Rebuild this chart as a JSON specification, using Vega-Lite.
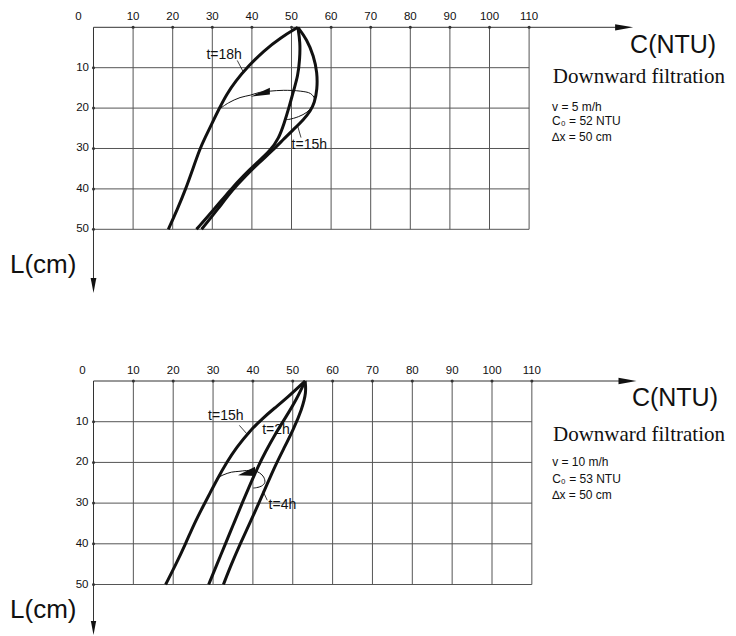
{
  "$schema": "https://vega.github.io/schema/vega-lite/v6.json",
  "padding": 0,
  "spacing": 0,
  "bounds": "flush",
  "background": "white",
  "config": {"view": {"stroke": null}, "font": "Liberation Sans"},
  "datasets": {
    "gridX": [{"x":10},{"x":20},{"x":30},{"x":40},{"x":50},{"x":60},{"x":70},{"x":80},{"x":90},{"x":100},{"x":110}],
    "gridL": [{"L":10},{"L":20},{"L":30},{"L":40},{"L":50}],
    "topCurves": [
      {"series":"t=18h","i":0,"x":51.6,"L":0},{"series":"t=18h","i":1,"x":47.2,"L":2.6},{"series":"t=18h","i":2,"x":43.0,"L":5.8},{"series":"t=18h","i":3,"x":38.9,"L":9.8},{"series":"t=18h","i":4,"x":35.9,"L":13.3},{"series":"t=18h","i":5,"x":33.6,"L":16.6},{"series":"t=18h","i":6,"x":31.8,"L":20},{"series":"t=18h","i":7,"x":29.8,"L":24},{"series":"t=18h","i":8,"x":28.2,"L":27.3},{"series":"t=18h","i":9,"x":26.9,"L":30},{"series":"t=18h","i":10,"x":25.1,"L":35},{"series":"t=18h","i":11,"x":23.3,"L":40},{"series":"t=18h","i":12,"x":21.2,"L":45},{"series":"t=18h","i":13,"x":18.9,"L":50},
      {"series":"middle","i":0,"x":51.6,"L":0},{"series":"middle","i":1,"x":52.2,"L":3.7},{"series":"middle","i":2,"x":52.1,"L":7.9},{"series":"middle","i":3,"x":51.6,"L":12.1},{"series":"middle","i":4,"x":50.6,"L":15.4},{"series":"middle","i":5,"x":49.3,"L":20.1},{"series":"middle","i":6,"x":48.2,"L":23.6},{"series":"middle","i":7,"x":46.8,"L":27.5},{"series":"middle","i":8,"x":44.6,"L":30.6},{"series":"middle","i":9,"x":41.2,"L":33.6},{"series":"middle","i":10,"x":37.8,"L":36.8},{"series":"middle","i":11,"x":34.6,"L":40.2},{"series":"middle","i":12,"x":30.5,"L":45.0},{"series":"middle","i":13,"x":26.0,"L":50},
      {"series":"t=15h","i":0,"x":51.6,"L":0},{"series":"t=15h","i":1,"x":53.9,"L":3.0},{"series":"t=15h","i":2,"x":55.6,"L":7.1},{"series":"t=15h","i":3,"x":56.5,"L":11.2},{"series":"t=15h","i":4,"x":56.5,"L":15.4},{"series":"t=15h","i":5,"x":55.8,"L":18.7},{"series":"t=15h","i":6,"x":54.8,"L":20.7},{"series":"t=15h","i":7,"x":53.1,"L":22.8},{"series":"t=15h","i":8,"x":50.5,"L":25.3},{"series":"t=15h","i":9,"x":48.0,"L":27.7},{"series":"t=15h","i":10,"x":45.1,"L":30.6},{"series":"t=15h","i":11,"x":41.8,"L":33.5},{"series":"t=15h","i":12,"x":38.4,"L":36.8},{"series":"t=15h","i":13,"x":35.2,"L":40.1},{"series":"t=15h","i":14,"x":31.4,"L":45},{"series":"t=15h","i":15,"x":27.3,"L":50}
    ],
    "topArrow": [
      {"i":0,"x":32.0,"L":20.1},{"i":1,"x":34.1,"L":18.7},{"i":2,"x":37.0,"L":17.4},{"i":3,"x":39.6,"L":16.8},{"i":4,"x":42.0,"L":16.1},{"i":5,"x":44.6,"L":15.8},{"i":6,"x":48.0,"L":15.6},{"i":7,"x":52.2,"L":15.8},{"i":8,"x":54.8,"L":16.4},{"i":9,"x":55.8,"L":17.7},{"i":10,"x":55.2,"L":19.5},{"i":11,"x":53.9,"L":21.0},{"i":12,"x":51.8,"L":22.1},{"i":13,"x":49.3,"L":22.8},{"i":14,"x":48.4,"L":22.8}
    ],
    "topLeaders": [
      {"x":36.3,"L":8.2,"x2":37.8,"L2":11.0},
      {"x":52.4,"L":27.3,"x2":51.6,"L2":24.6}
    ],
    "topLabels": [
      {"label":"t=18h","x":33.0,"L":6.9},
      {"label":"t=15h","x":54.5,"L":29.2}
    ],
    "topParams": [
      {"label":"v = 5 m/h","x":115.8,"L":20.6},
      {"label":"C₀ = 52 NTU","x":115.8,"L":24.3},
      {"label":"∆x = 50 cm","x":115.8,"L":28.1}
    ],
    "bottomCurves": [
      {"series":"t=15h","i":0,"x":53.1,"L":0},{"series":"t=15h","i":1,"x":48.5,"L":4.2},{"series":"t=15h","i":2,"x":45.5,"L":6.6},{"series":"t=15h","i":3,"x":42.4,"L":9.2},{"series":"t=15h","i":4,"x":39.2,"L":12.3},{"series":"t=15h","i":5,"x":35.9,"L":16.3},{"series":"t=15h","i":6,"x":33.4,"L":20},{"series":"t=15h","i":7,"x":31.0,"L":24.2},{"series":"t=15h","i":8,"x":29.2,"L":27.6},{"series":"t=15h","i":9,"x":27.6,"L":30.6},{"series":"t=15h","i":10,"x":25.3,"L":35},{"series":"t=15h","i":11,"x":23.1,"L":40},{"series":"t=15h","i":12,"x":20.7,"L":45},{"series":"t=15h","i":13,"x":18.1,"L":50},
      {"series":"t=2h","i":0,"x":53.1,"L":0},{"series":"t=2h","i":1,"x":51.0,"L":4.4},{"series":"t=2h","i":2,"x":48.5,"L":8.5},{"series":"t=2h","i":3,"x":45.6,"L":13.0},{"series":"t=2h","i":4,"x":43.1,"L":17.5},{"series":"t=2h","i":5,"x":41.3,"L":21},{"series":"t=2h","i":6,"x":39.5,"L":25},{"series":"t=2h","i":7,"x":37.3,"L":30},{"series":"t=2h","i":8,"x":35.2,"L":35},{"series":"t=2h","i":9,"x":33.1,"L":40},{"series":"t=2h","i":10,"x":31.0,"L":45},{"series":"t=2h","i":11,"x":28.9,"L":50},
      {"series":"t=4h","i":0,"x":53.1,"L":0},{"series":"t=4h","i":1,"x":53.4,"L":2.8},{"series":"t=4h","i":2,"x":52.3,"L":6.9},{"series":"t=4h","i":3,"x":50.2,"L":11.8},{"series":"t=4h","i":4,"x":47.7,"L":16.7},{"series":"t=4h","i":5,"x":45.6,"L":20.8},{"series":"t=4h","i":6,"x":43.5,"L":25.5},{"series":"t=4h","i":7,"x":41.5,"L":30},{"series":"t=4h","i":8,"x":39.2,"L":35},{"series":"t=4h","i":9,"x":36.8,"L":40},{"series":"t=4h","i":10,"x":34.6,"L":45},{"series":"t=4h","i":11,"x":32.6,"L":50}
    ],
    "bottomArrow": [
      {"i":0,"x":30.8,"L":24.0},{"i":1,"x":32.5,"L":23.1},{"i":2,"x":34.6,"L":22.4},{"i":3,"x":36.5,"L":22.2},{"i":4,"x":38.4,"L":22.0},{"i":5,"x":40.3,"L":22.0},{"i":6,"x":41.7,"L":22.6},{"i":7,"x":42.7,"L":23.6},{"i":8,"x":43.0,"L":24.9},{"i":9,"x":42.2,"L":25.8},{"i":10,"x":40.9,"L":26.2},{"i":11,"x":40.1,"L":26.3}
    ],
    "bottomLeaders": [
      {"x":36.6,"L":10.9,"x2":38.5,"L2":13.0},
      {"x":43.6,"L":29.3,"x2":42.5,"L2":27.0}
    ],
    "bottomLabels": [
      {"label":"t=15h","x":33.2,"L":8.6},
      {"label":"t=2h","x":45.8,"L":12.1},
      {"label":"t=4h","x":47.4,"L":30.5}
    ],
    "bottomParams": [
      {"label":"v = 10 m/h","x":115.1,"L":20.9},
      {"label":"C₀ = 53 NTU","x":115.1,"L":25.0},
      {"label":"∆x = 50 cm","x":115.1,"L":29.0}
    ]
  },
  "vconcat": [
    {
      "width": 736,
      "height": 318,
      "layer": [
        {"data":{"name":"gridX"},"mark":{"type":"rule","stroke":"#555","strokeWidth":1},
         "encoding":{"x":{"field":"x","type":"quantitative","scale":{"domain":[-23.611,162.247],"nice":false,"zero":false},"axis":null},
                     "y":{"datum":0,"type":"quantitative","scale":{"domain":[-6.757,71.955],"nice":false,"zero":false,"reverse":true},"axis":null},"y2":{"datum":50}}},
        {"data":{"name":"gridL"},"mark":{"type":"rule","stroke":"#555","strokeWidth":1},
         "encoding":{"y":{"field":"L","type":"quantitative","scale":{"domain":[-6.757,71.955],"nice":false,"zero":false,"reverse":true},"axis":null},
                     "x":{"datum":0,"type":"quantitative","scale":{"domain":[-23.611,162.247],"nice":false,"zero":false},"axis":null},"x2":{"datum":110}}},
        {"data":{"values":[{}]},"mark":{"type":"rule","stroke":"#333","strokeWidth":1},
         "encoding":{"x":{"datum":0,"type":"quantitative","scale":{"domain":[-23.611,162.247],"nice":false,"zero":false},"axis":null},"x2":{"datum":134},
                     "y":{"datum":0,"type":"quantitative","scale":{"domain":[-6.757,71.955],"nice":false,"zero":false,"reverse":true},"axis":null}}},
        {"data":{"values":[{}]},"mark":{"type":"rule","stroke":"#333","strokeWidth":1},
         "encoding":{"x":{"datum":0,"type":"quantitative","scale":{"domain":[-23.611,162.247],"nice":false,"zero":false},"axis":null},
                     "y":{"datum":0,"type":"quantitative","scale":{"domain":[-6.757,71.955],"nice":false,"zero":false,"reverse":true},"axis":null},"y2":{"datum":62.5}}},
        {"data":{"values":[{}]},"mark":{"type":"point","shape":"M1,0L-1,-0.35L-1,0.35Z","size":324,"filled":true,"color":"#111","opacity":1},
         "encoding":{"x":{"datum":134,"type":"quantitative","scale":{"domain":[-23.611,162.247],"nice":false,"zero":false},"axis":null},
                     "y":{"datum":0,"type":"quantitative","scale":{"domain":[-6.757,71.955],"nice":false,"zero":false,"reverse":true},"axis":null}}},
        {"data":{"values":[{}]},"mark":{"type":"point","shape":"M0,1L-0.38,-1L0.38,-1Z","size":225,"filled":true,"color":"#111","opacity":1},
         "encoding":{"x":{"datum":0,"type":"quantitative","scale":{"domain":[-23.611,162.247],"nice":false,"zero":false},"axis":null},
                     "y":{"datum":63.9,"type":"quantitative","scale":{"domain":[-6.757,71.955],"nice":false,"zero":false,"reverse":true},"axis":null}}},
        {"data":{"name":"gridX"},"mark":{"type":"point","size":9,"filled":true,"color":"#333","opacity":1},
         "encoding":{"x":{"field":"x","type":"quantitative","scale":{"domain":[-23.611,162.247],"nice":false,"zero":false},"axis":null},
                     "y":{"datum":0,"type":"quantitative","scale":{"domain":[-6.757,71.955],"nice":false,"zero":false,"reverse":true},"axis":null}}},
        {"data":{"name":"gridL"},"mark":{"type":"point","size":9,"filled":true,"color":"#333","opacity":1},
         "encoding":{"y":{"field":"L","type":"quantitative","scale":{"domain":[-6.757,71.955],"nice":false,"zero":false,"reverse":true},"axis":null},
                     "x":{"datum":0,"type":"quantitative","scale":{"domain":[-23.611,162.247],"nice":false,"zero":false},"axis":null}}},
        {"data":{"name":"gridX"},"mark":{"type":"text","fontSize":11.5,"font":"Liberation Sans","color":"#111","baseline":"middle","align":"center","dy":-10},
         "encoding":{"x":{"field":"x","type":"quantitative","scale":{"domain":[-23.611,162.247],"nice":false,"zero":false},"axis":null},
                     "y":{"datum":0,"type":"quantitative","scale":{"domain":[-6.757,71.955],"nice":false,"zero":false,"reverse":true},"axis":null},
                     "text":{"field":"x","type":"quantitative"}}},
        {"data":{"name":"gridL"},"mark":{"type":"text","fontSize":11.5,"font":"Liberation Sans","color":"#111","baseline":"middle","align":"right","dx":-4.5},
         "encoding":{"y":{"field":"L","type":"quantitative","scale":{"domain":[-6.757,71.955],"nice":false,"zero":false,"reverse":true},"axis":null},
                     "x":{"datum":0,"type":"quantitative","scale":{"domain":[-23.611,162.247],"nice":false,"zero":false},"axis":null},
                     "text":{"field":"L","type":"quantitative"}}},
        {"data":{"values":[{}]},"mark":{"type":"text","text":"0","fontSize":11.5,"font":"Liberation Sans","color":"#111","baseline":"middle","align":"center","dx":-15,"dy":-10},
         "encoding":{"x":{"datum":0,"type":"quantitative","scale":{"domain":[-23.611,162.247],"nice":false,"zero":false},"axis":null},
                     "y":{"datum":0,"type":"quantitative","scale":{"domain":[-6.757,71.955],"nice":false,"zero":false,"reverse":true},"axis":null}}},
        {"data":{"name":"topArrow"},"mark":{"type":"line","stroke":"#111","strokeWidth":1,"interpolate":"catmull-rom"},
         "encoding":{"x":{"field":"x","type":"quantitative","scale":{"domain":[-23.611,162.247],"nice":false,"zero":false},"axis":null},
                     "y":{"field":"L","type":"quantitative","scale":{"domain":[-6.757,71.955],"nice":false,"zero":false,"reverse":true},"axis":null},
                     "order":{"field":"i","type":"quantitative"}}},
        {"data":{"name":"topCurves"},"mark":{"type":"line","stroke":"#111","strokeWidth":3,"interpolate":"basis","strokeJoin":"round"},
         "encoding":{"x":{"field":"x","type":"quantitative","scale":{"domain":[-23.611,162.247],"nice":false,"zero":false},"axis":null},
                     "y":{"field":"L","type":"quantitative","scale":{"domain":[-6.757,71.955],"nice":false,"zero":false,"reverse":true},"axis":null},
                     "detail":{"field":"series","type":"nominal"},
                     "order":{"field":"i","type":"quantitative"}}},
        {"data":{"values":[{}]},"mark":{"type":"point","shape":"M-1,0.41L1,-0.52L1,0.17Z","size":372,"filled":true,"color":"#111","opacity":1},
         "encoding":{"x":{"datum":42.1,"type":"quantitative","scale":{"domain":[-23.611,162.247],"nice":false,"zero":false},"axis":null},
                     "y":{"datum":16.2,"type":"quantitative","scale":{"domain":[-6.757,71.955],"nice":false,"zero":false,"reverse":true},"axis":null}}},
        {"data":{"name":"topLeaders"},"mark":{"type":"rule","stroke":"#111","strokeWidth":0.8},
         "encoding":{"x":{"field":"x","type":"quantitative","scale":{"domain":[-23.611,162.247],"nice":false,"zero":false},"axis":null},"x2":{"field":"x2"},
                     "y":{"field":"L","type":"quantitative","scale":{"domain":[-6.757,71.955],"nice":false,"zero":false,"reverse":true},"axis":null},"y2":{"field":"L2"}}},
        {"data":{"name":"topLabels"},"mark":{"type":"text","fontSize":14,"font":"Liberation Sans","color":"#111","baseline":"middle","align":"center"},
         "encoding":{"x":{"field":"x","type":"quantitative","scale":{"domain":[-23.611,162.247],"nice":false,"zero":false},"axis":null},
                     "y":{"field":"L","type":"quantitative","scale":{"domain":[-6.757,71.955],"nice":false,"zero":false,"reverse":true},"axis":null},
                     "text":{"field":"label"}}},
        {"data":{"values":[{"label":"C(NTU)","x":135.5,"L":6.4}]},"mark":{"type":"text","fontSize":25,"font":"Liberation Sans","color":"#111","baseline":"alphabetic","align":"left"},
         "encoding":{"x":{"field":"x","type":"quantitative","scale":{"domain":[-23.611,162.247],"nice":false,"zero":false},"axis":null},
                     "y":{"field":"L","type":"quantitative","scale":{"domain":[-6.757,71.955],"nice":false,"zero":false,"reverse":true},"axis":null},
                     "text":{"field":"label"}}},
        {"data":{"values":[{"label":"Downward filtration","x":116.0,"L":13.9}]},"mark":{"type":"text","fontSize":21,"font":"Liberation Serif","color":"#111","baseline":"alphabetic","align":"left"},
         "encoding":{"x":{"field":"x","type":"quantitative","scale":{"domain":[-23.611,162.247],"nice":false,"zero":false},"axis":null},
                     "y":{"field":"L","type":"quantitative","scale":{"domain":[-6.757,71.955],"nice":false,"zero":false,"reverse":true},"axis":null},
                     "text":{"field":"label"}}},
        {"data":{"name":"topParams"},"mark":{"type":"text","fontSize":12,"font":"Liberation Sans","color":"#111","baseline":"alphabetic","align":"left"},
         "encoding":{"x":{"field":"x","type":"quantitative","scale":{"domain":[-23.611,162.247],"nice":false,"zero":false},"axis":null},
                     "y":{"field":"L","type":"quantitative","scale":{"domain":[-6.757,71.955],"nice":false,"zero":false,"reverse":true},"axis":null},
                     "text":{"field":"label"}}},
        {"data":{"values":[{"label":"L(cm)","x":-21.1,"L":60.8}]},"mark":{"type":"text","fontSize":26,"font":"Liberation Sans","color":"#111","baseline":"alphabetic","align":"left"},
         "encoding":{"x":{"field":"x","type":"quantitative","scale":{"domain":[-23.611,162.247],"nice":false,"zero":false},"axis":null},
                     "y":{"field":"L","type":"quantitative","scale":{"domain":[-6.757,71.955],"nice":false,"zero":false,"reverse":true},"axis":null},
                     "text":{"field":"label"}}}
      ]
    },
    {
      "width": 736,
      "height": 318,
      "layer": [
        {"data":{"name":"gridX"},"mark":{"type":"rule","stroke":"#555","strokeWidth":1},
         "encoding":{"x":{"field":"x","type":"quantitative","scale":{"domain":[-23.463,161.229],"nice":false,"zero":false},"axis":null},
                     "y":{"datum":0,"type":"quantitative","scale":{"domain":[-15.48,62.65],"nice":false,"zero":false,"reverse":true},"axis":null},"y2":{"datum":50}}},
        {"data":{"name":"gridL"},"mark":{"type":"rule","stroke":"#555","strokeWidth":1},
         "encoding":{"y":{"field":"L","type":"quantitative","scale":{"domain":[-15.48,62.65],"nice":false,"zero":false,"reverse":true},"axis":null},
                     "x":{"datum":0,"type":"quantitative","scale":{"domain":[-23.463,161.229],"nice":false,"zero":false},"axis":null},"x2":{"datum":110}}},
        {"data":{"values":[{}]},"mark":{"type":"rule","stroke":"#333","strokeWidth":1},
         "encoding":{"x":{"datum":0,"type":"quantitative","scale":{"domain":[-23.463,161.229],"nice":false,"zero":false},"axis":null},"x2":{"datum":134},
                     "y":{"datum":0,"type":"quantitative","scale":{"domain":[-15.48,62.65],"nice":false,"zero":false,"reverse":true},"axis":null}}},
        {"data":{"values":[{}]},"mark":{"type":"rule","stroke":"#333","strokeWidth":1},
         "encoding":{"x":{"datum":0,"type":"quantitative","scale":{"domain":[-23.463,161.229],"nice":false,"zero":false},"axis":null},
                     "y":{"datum":0,"type":"quantitative","scale":{"domain":[-15.48,62.65],"nice":false,"zero":false,"reverse":true},"axis":null},"y2":{"datum":59.5}}},
        {"data":{"values":[{}]},"mark":{"type":"point","shape":"M1,0L-1,-0.35L-1,0.35Z","size":324,"filled":true,"color":"#111","opacity":1},
         "encoding":{"x":{"datum":134,"type":"quantitative","scale":{"domain":[-23.463,161.229],"nice":false,"zero":false},"axis":null},
                     "y":{"datum":0,"type":"quantitative","scale":{"domain":[-15.48,62.65],"nice":false,"zero":false,"reverse":true},"axis":null}}},
        {"data":{"values":[{}]},"mark":{"type":"point","shape":"M0,1L-0.38,-1L0.38,-1Z","size":196,"filled":true,"color":"#111","opacity":1},
         "encoding":{"x":{"datum":0,"type":"quantitative","scale":{"domain":[-23.463,161.229],"nice":false,"zero":false},"axis":null},
                     "y":{"datum":60.7,"type":"quantitative","scale":{"domain":[-15.48,62.65],"nice":false,"zero":false,"reverse":true},"axis":null}}},
        {"data":{"name":"gridX"},"mark":{"type":"point","size":9,"filled":true,"color":"#333","opacity":1},
         "encoding":{"x":{"field":"x","type":"quantitative","scale":{"domain":[-23.463,161.229],"nice":false,"zero":false},"axis":null},
                     "y":{"datum":0,"type":"quantitative","scale":{"domain":[-15.48,62.65],"nice":false,"zero":false,"reverse":true},"axis":null}}},
        {"data":{"name":"gridL"},"mark":{"type":"point","size":9,"filled":true,"color":"#333","opacity":1},
         "encoding":{"y":{"field":"L","type":"quantitative","scale":{"domain":[-15.48,62.65],"nice":false,"zero":false,"reverse":true},"axis":null},
                     "x":{"datum":0,"type":"quantitative","scale":{"domain":[-23.463,161.229],"nice":false,"zero":false},"axis":null}}},
        {"data":{"name":"gridX"},"mark":{"type":"text","fontSize":11.5,"font":"Liberation Sans","color":"#111","baseline":"middle","align":"center","dy":-10},
         "encoding":{"x":{"field":"x","type":"quantitative","scale":{"domain":[-23.463,161.229],"nice":false,"zero":false},"axis":null},
                     "y":{"datum":0,"type":"quantitative","scale":{"domain":[-15.48,62.65],"nice":false,"zero":false,"reverse":true},"axis":null},
                     "text":{"field":"x","type":"quantitative"}}},
        {"data":{"name":"gridL"},"mark":{"type":"text","fontSize":11.5,"font":"Liberation Sans","color":"#111","baseline":"middle","align":"right","dx":-5},
         "encoding":{"y":{"field":"L","type":"quantitative","scale":{"domain":[-15.48,62.65],"nice":false,"zero":false,"reverse":true},"axis":null},
                     "x":{"datum":0,"type":"quantitative","scale":{"domain":[-23.463,161.229],"nice":false,"zero":false},"axis":null},
                     "text":{"field":"L","type":"quantitative"}}},
        {"data":{"values":[{}]},"mark":{"type":"text","text":"0","fontSize":11.5,"font":"Liberation Sans","color":"#111","baseline":"middle","align":"center","dx":-11,"dy":-10},
         "encoding":{"x":{"datum":0,"type":"quantitative","scale":{"domain":[-23.463,161.229],"nice":false,"zero":false},"axis":null},
                     "y":{"datum":0,"type":"quantitative","scale":{"domain":[-15.48,62.65],"nice":false,"zero":false,"reverse":true},"axis":null}}},
        {"data":{"name":"bottomArrow"},"mark":{"type":"line","stroke":"#111","strokeWidth":1,"interpolate":"catmull-rom"},
         "encoding":{"x":{"field":"x","type":"quantitative","scale":{"domain":[-23.463,161.229],"nice":false,"zero":false},"axis":null},
                     "y":{"field":"L","type":"quantitative","scale":{"domain":[-15.48,62.65],"nice":false,"zero":false,"reverse":true},"axis":null},
                     "order":{"field":"i","type":"quantitative"}}},
        {"data":{"name":"bottomCurves"},"mark":{"type":"line","stroke":"#111","strokeWidth":3,"interpolate":"basis","strokeJoin":"round"},
         "encoding":{"x":{"field":"x","type":"quantitative","scale":{"domain":[-23.463,161.229],"nice":false,"zero":false},"axis":null},
                     "y":{"field":"L","type":"quantitative","scale":{"domain":[-15.48,62.65],"nice":false,"zero":false,"reverse":true},"axis":null},
                     "detail":{"field":"series","type":"nominal"},
                     "order":{"field":"i","type":"quantitative"}}},
        {"data":{"values":[{}]},"mark":{"type":"point","shape":"M-1,0.45L1,-0.55L1,0.55Z","size":289,"filled":true,"color":"#111","opacity":1},
         "encoding":{"x":{"datum":38.4,"type":"quantitative","scale":{"domain":[-23.463,161.229],"nice":false,"zero":false},"axis":null},
                     "y":{"datum":22.2,"type":"quantitative","scale":{"domain":[-15.48,62.65],"nice":false,"zero":false,"reverse":true},"axis":null}}},
        {"data":{"name":"bottomLeaders"},"mark":{"type":"rule","stroke":"#111","strokeWidth":0.8},
         "encoding":{"x":{"field":"x","type":"quantitative","scale":{"domain":[-23.463,161.229],"nice":false,"zero":false},"axis":null},"x2":{"field":"x2"},
                     "y":{"field":"L","type":"quantitative","scale":{"domain":[-15.48,62.65],"nice":false,"zero":false,"reverse":true},"axis":null},"y2":{"field":"L2"}}},
        {"data":{"name":"bottomLabels"},"mark":{"type":"text","fontSize":14,"font":"Liberation Sans","color":"#111","baseline":"middle","align":"center"},
         "encoding":{"x":{"field":"x","type":"quantitative","scale":{"domain":[-23.463,161.229],"nice":false,"zero":false},"axis":null},
                     "y":{"field":"L","type":"quantitative","scale":{"domain":[-15.48,62.65],"nice":false,"zero":false,"reverse":true},"axis":null},
                     "text":{"field":"label"}}},
        {"data":{"values":[{"label":"C(NTU)","x":135.1,"L":6.1}]},"mark":{"type":"text","fontSize":25,"font":"Liberation Sans","color":"#111","baseline":"alphabetic","align":"left"},
         "encoding":{"x":{"field":"x","type":"quantitative","scale":{"domain":[-23.463,161.229],"nice":false,"zero":false},"axis":null},
                     "y":{"field":"L","type":"quantitative","scale":{"domain":[-15.48,62.65],"nice":false,"zero":false,"reverse":true},"axis":null},
                     "text":{"field":"label"}}},
        {"data":{"values":[{"label":"Downward filtration","x":115.3,"L":14.7}]},"mark":{"type":"text","fontSize":21,"font":"Liberation Serif","color":"#111","baseline":"alphabetic","align":"left"},
         "encoding":{"x":{"field":"x","type":"quantitative","scale":{"domain":[-23.463,161.229],"nice":false,"zero":false},"axis":null},
                     "y":{"field":"L","type":"quantitative","scale":{"domain":[-15.48,62.65],"nice":false,"zero":false,"reverse":true},"axis":null},
                     "text":{"field":"label"}}},
        {"data":{"name":"bottomParams"},"mark":{"type":"text","fontSize":12,"font":"Liberation Sans","color":"#111","baseline":"alphabetic","align":"left"},
         "encoding":{"x":{"field":"x","type":"quantitative","scale":{"domain":[-23.463,161.229],"nice":false,"zero":false},"axis":null},
                     "y":{"field":"L","type":"quantitative","scale":{"domain":[-15.48,62.65],"nice":false,"zero":false,"reverse":true},"axis":null},
                     "text":{"field":"label"}}},
        {"data":{"values":[{"label":"L(cm)","x":-20.95,"L":58.2}]},"mark":{"type":"text","fontSize":26,"font":"Liberation Sans","color":"#111","baseline":"alphabetic","align":"left"},
         "encoding":{"x":{"field":"x","type":"quantitative","scale":{"domain":[-23.463,161.229],"nice":false,"zero":false},"axis":null},
                     "y":{"field":"L","type":"quantitative","scale":{"domain":[-15.48,62.65],"nice":false,"zero":false,"reverse":true},"axis":null},
                     "text":{"field":"label"}}}
      ]
    }
  ]
}
